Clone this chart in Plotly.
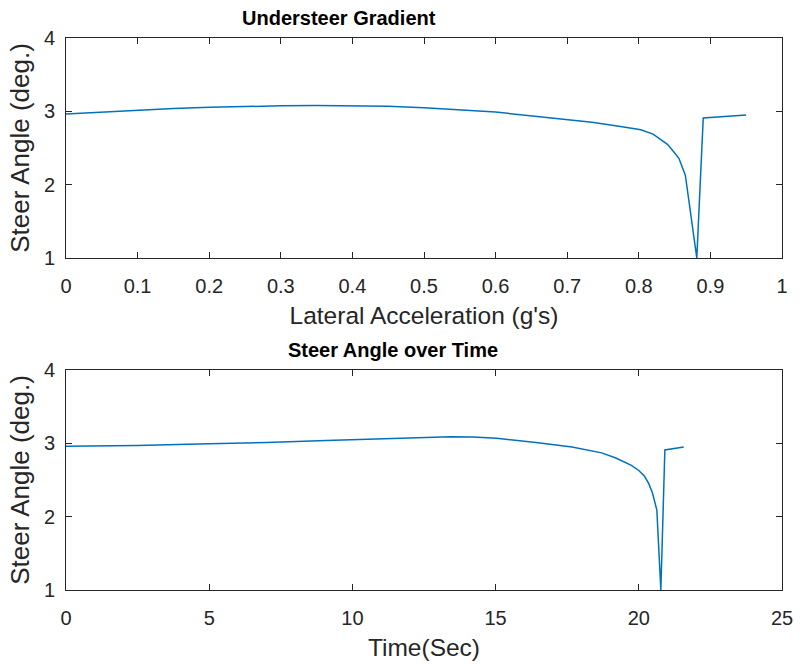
import plotly.graph_objects as go

# Top: steer angle vs lateral acceleration
lat_acc = [0, 0.05, 0.1, 0.15, 0.2, 0.25, 0.3, 0.35, 0.4, 0.45, 0.5, 0.546, 0.6,
           0.638, 0.7, 0.7345, 0.77, 0.803, 0.82, 0.831, 0.84, 0.847, 0.856,
           0.865, 0.873, 0.881, 0.890, 0.950]
steer_ug = [2.964, 2.99, 3.015, 3.04, 3.055, 3.067, 3.075, 3.08, 3.08, 3.07, 3.05,
            3.025, 2.99, 2.95, 2.89, 2.85, 2.80, 2.75, 2.69, 2.61, 2.55, 2.47, 2.36,
            2.13, 1.55, 1.0, 2.91, 2.95]

# Bottom: steer angle vs time
time_s = [0, 2.5, 4.6, 7, 9.08, 11.37, 12.5, 13.43, 14.2, 15.04, 16.41, 17.67,
          18.7, 19.2, 19.74, 20.0, 20.2, 20.35, 20.48, 20.63, 20.77, 20.91, 21.57]
steer_t = [2.96, 2.97, 2.99, 3.01, 3.04, 3.07, 3.085, 3.09, 3.085, 3.07, 3.01, 2.95,
           2.87, 2.80, 2.70, 2.63, 2.55, 2.45, 2.32, 2.09, 1.0, 2.91, 2.95]

x1_ticks = [0, 0.1, 0.2, 0.3, 0.4, 0.5, 0.6, 0.7, 0.8, 0.9, 1]
x1_labels = ["0", "0.1", "0.2", "0.3", "0.4", "0.5", "0.6", "0.7", "0.8", "0.9", "1"]
x2_ticks = [0, 5, 10, 15, 20, 25]
y_ticks = [1, 2, 3, 4]

C = "#0072BD"
AX = "#262626"
FONT = "Liberation Sans, Arial, sans-serif"

fig = go.Figure()
fig.add_trace(go.Scatter(x=lat_acc, y=steer_ug, mode="lines",
                         line=dict(color=C, width=1.5), xaxis="x", yaxis="y",
                         showlegend=False))
fig.add_trace(go.Scatter(x=time_s, y=steer_t, mode="lines",
                         line=dict(color=C, width=1.5), xaxis="x2", yaxis="y2",
                         showlegend=False))

common = dict(showline=True, linecolor=AX, linewidth=1, mirror="ticks",
              ticks="inside", ticklen=6, tickcolor=AX, tickwidth=1,
              showgrid=False, zeroline=False,
              tickfont=dict(family=FONT, size=20, color=AX))

XTF = dict(family=FONT, size=24.5, color=AX)
YTF = dict(family=FONT, size=26, color=AX)

H = 666 - 38 - 76
top_lo = (590 - 258) / H
bot_hi = (590 - 370) / H

fig.update_layout(
    width=800, height=666,
    margin=dict(l=66, r=7, t=38, b=76),
    paper_bgcolor="white", plot_bgcolor="white",
    font=dict(family=FONT, color=AX),
    xaxis=dict(domain=[0, 1], range=[0, 1], tickvals=x1_ticks, ticktext=x1_labels,
               anchor="y", ticklabelstandoff=10,
               title=dict(text="Lateral Acceleration (g's)", standoff=10, font=XTF),
               **common),
    yaxis=dict(domain=[top_lo, 1], range=[1, 4], tickvals=y_ticks, anchor="x",
               ticklabelstandoff=6,
               title=dict(text="Steer Angle (deg.)", standoff=6, font=YTF), **common),
    xaxis2=dict(domain=[0, 1], range=[0, 25], tickvals=x2_ticks, anchor="y2",
                ticklabelstandoff=10,
                title=dict(text="Time(Sec)", standoff=10, font=XTF), **common),
    yaxis2=dict(domain=[0, bot_hi], range=[1, 4], tickvals=y_ticks, anchor="x2",
                ticklabelstandoff=6,
                title=dict(text="Steer Angle (deg.)", standoff=6, font=YTF), **common),
    annotations=[
        dict(text="<b>Understeer Gradient</b>", x=(343 - 66) / 727, xref="x domain",
             y=1, yref="y domain", yshift=7, xanchor="center", yanchor="bottom",
             showarrow=False, font=dict(family=FONT, size=20, color="black")),
        dict(text="<b>Steer Angle over Time</b>", x=(398 - 66) / 727, xref="x2 domain",
             y=1, yref="y2 domain", yshift=7, xanchor="center", yanchor="bottom",
             showarrow=False, font=dict(family=FONT, size=20, color="black")),
    ],
)

fig.write_html("out.html")
